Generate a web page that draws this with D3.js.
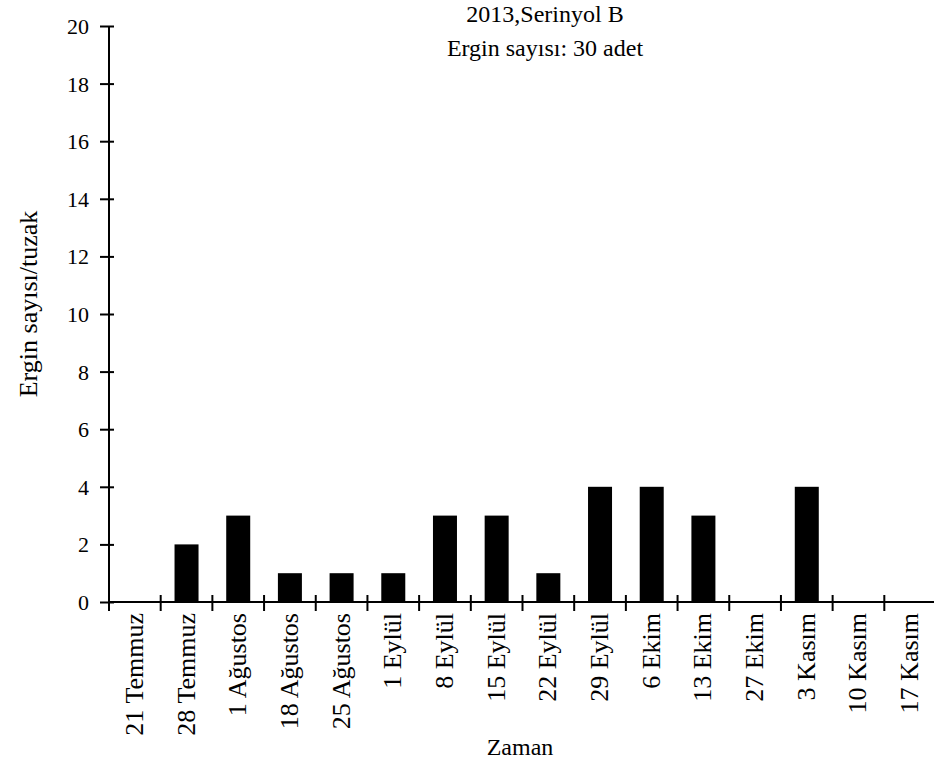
<!DOCTYPE html>
<html>
<head>
<meta charset="utf-8">
<script src="https://cdn.jsdelivr.net/npm/d3@7"></script>
<style>
    body { margin: 0; background: #fff; }
</style>
</head>
<body>
<svg id="chart" width="934" height="765"></svg>
<script>
// - - - - - - - - - -
// data
// - - - - - - - - - -
const dates = ['21 Temmuz', '28 Temmuz', '1 Ağustos', '18 Ağustos', '25 Ağustos', '1 Eylül',
    '8 Eylül', '15 Eylül', '22 Eylül', '29 Eylül', '6 Ekim', '13 Ekim', '27 Ekim',
    '3 Kasım', '10 Kasım', '17 Kasım'];
const counts = [0, 2, 3, 1, 1, 1, 3, 3, 1, 4, 4, 3, 0, 4, 0, 0];
const yTicks = [0, 2, 4, 6, 8, 10, 12, 14, 16, 18, 20];
const titleLines = ['2013,Serinyol B', 'Ergin sayısı: 30 adet'];

// - - - - - - - - - -
// scales
// - - - - - - - - - -
const svg = d3.select('#chart');
const FONT = '"Liberation Serif"';
const mLeft = 109, mRight = 936, mTop = 26, mBottom = 602;

const x = d3.scaleBand().domain(dates).range([mLeft, mRight]).padding(0);
const y = d3.scaleLinear().domain([0, 20]).range([mBottom, mTop]);
const barW = 24;

// bars
svg.append('g')
    .selectAll('rect')
    .data(counts)
    .join('rect')
    .attr('x', (d, i) => x(dates[i]) + x.bandwidth() / 2 - barW / 2)
    .attr('y', d => y(d))
    .attr('width', barW)
    .attr('height', d => y(0) - y(d))
    .attr('fill', '#000');

// y axis
const yAxis = svg.append('g')
    .attr('transform', `translate(${mLeft},0)`)
    .attr('font-family', null)
    .call(d3.axisLeft(y).tickValues(yTicks).tickSize(9).tickPadding(11));
yAxis.attr('font-family', null).attr('font-size', null);
yAxis.select('.domain').remove();
yAxis.selectAll('.tick line').attr('x1', 5).attr('stroke', '#000').attr('stroke-width', 2);
yAxis.selectAll('.tick text')
    .attr('dy', '0.34em')
    .style('font-family', FONT).style('font-size', '22px').style('fill', '#000');
svg.append('line')
    .attr('x1', mLeft).attr('x2', mLeft)
    .attr('y1', mTop).attr('y2', mBottom + 9)
    .attr('stroke', '#000').attr('stroke-width', 2);

// x axis
svg.append('line')
    .attr('x1', mLeft).attr('x2', mRight)
    .attr('y1', mBottom).attr('y2', mBottom)
    .attr('stroke', '#000').attr('stroke-width', 2);

svg.append('g')
    .selectAll('line')
    .data(dates.slice(1))
    .join('line')
    .attr('x1', d => x(d)).attr('x2', d => x(d))
    .attr('y1', mBottom - 7).attr('y2', mBottom + 9)
    .attr('stroke', '#000').attr('stroke-width', 2);

svg.append('g')
    .selectAll('text')
    .data(dates)
    .join('text')
    .attr('transform', d => `translate(${x(d) + x.bandwidth() / 2 + 8},${mBottom + 11}) rotate(-90)`)
    .attr('text-anchor', 'end')
    .style('font-family', FONT).style('font-size', '26px')
    .text(d => d);

// - - - - - - - - - -
// texts
// - - - - - - - - - -
svg.append('text')
    .attr('transform', 'translate(37,304) rotate(-90)')
    .attr('text-anchor', 'middle')
    .style('font-family', FONT).style('font-size', '26px')
    .text('Ergin sayısı/tuzak');

svg.append('text')
    .attr('x', 520).attr('y', 755)
    .attr('text-anchor', 'middle')
    .style('font-family', FONT).style('font-size', '24px')
    .text('Zaman');

svg.append('g')
    .selectAll('text')
    .data(titleLines)
    .join('text')
    .attr('x', 545)
    .attr('y', (d, i) => 22 + i * 34)
    .attr('text-anchor', 'middle')
    .style('font-family', FONT).style('font-size', '24px')
    .text(d => d);
</script>
</body>
</html>
